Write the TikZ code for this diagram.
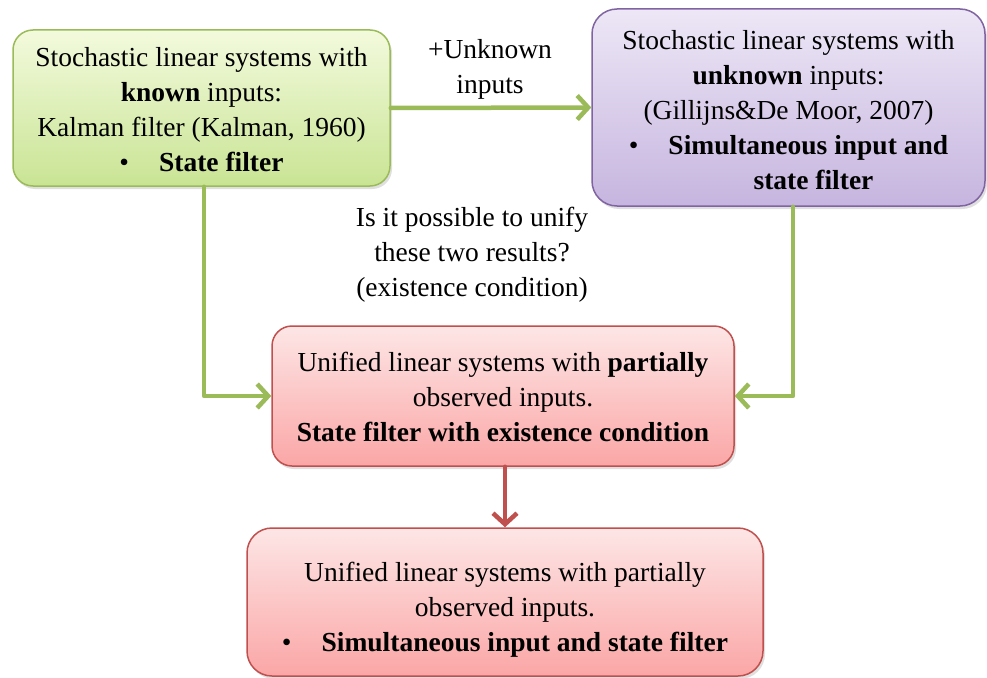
\documentclass[tikz,border=0pt]{standalone}
\usepackage{fontspec}
\setmainfont{Liberation Serif}
\usetikzlibrary{arrows.meta,shadows}

\definecolor{grnline}{HTML}{9BBB59}
\definecolor{grntop}{HTML}{F3FADD}
\definecolor{grnbot}{HTML}{C9E494}
\definecolor{purline}{HTML}{8064A2}
\definecolor{purtop}{HTML}{EDE7F6}
\definecolor{purbot}{HTML}{C6B5DF}
\definecolor{redline}{HTML}{C0504D}
\definecolor{redtop}{HTML}{FDE6E6}
\definecolor{redbot}{HTML}{FBA6A6}

\tikzset{
  bigtext/.style={font=\fontsize{27.5}{35}\selectfont, align=center},
  box/.style={bigtext, rectangle, rounded corners=20pt, line width=1.5pt,
    inner sep=0pt,
    drop shadow={opacity=0.25, shadow xshift=2pt, shadow yshift=-3pt}},
  greenbox/.style={box, draw=grnline, top color=grntop, bottom color=grnbot},
  purplebox/.style={box, draw=purline, top color=purtop, bottom color=purbot, rounded corners=25pt},
  redbox/.style={box, draw=redline, top color=redtop, bottom color=redbot},
  garrow/.style={draw=grnline, line width=4.5pt, line cap=round, line join=round,
    -{Straight Barb[length=11pt,width=24pt]}},
  rarrow/.style={draw=redline, line width=4.5pt, line cap=round, line join=round,
    -{Straight Barb[length=11pt,width=24pt]}},
  note/.style={bigtext, inner sep=0pt}
}

\begin{document}
\begin{tikzpicture}[x=1pt, y=-1pt]
  \useasboundingbox (0,0) rectangle (987,677);

  % known-input filter
  \node[greenbox, minimum width=377pt, minimum height=156pt] (known) at (201.5,108)
    {\rule{0pt}{22pt}Stochastic linear systems with\\
     \textbf{known} inputs:\\
     Kalman filter (Kalman, 1960)\\
     \textbullet\hspace{30pt}\textbf{State filter}};

  % unknown-input filter
  \node[purplebox, minimum width=393pt, minimum height=197pt] (unknown) at (788.5,107.5)
    {\rule{0pt}{24pt}Stochastic linear systems with\\
     \textbf{unknown} inputs:\\
     (Gillijns\&De Moor, 2007)\\
     \textbullet\hspace{30pt}\textbf{Simultaneous input and}\\
     \hspace*{50pt}\textbf{state filter}};

  % unified state filter
  \node[redbox, minimum width=462pt, minimum height=140pt] (unified) at (503,396)
    {\rule{0pt}{22pt}Unified linear systems with \textbf{partially}\\
     observed inputs.\\
     \textbf{State filter with existence condition}};

  % unified simultaneous filter
  \node[redbox, rounded corners=25pt, minimum width=516pt, minimum height=148pt] (joint) at (505,602)
    {\rule{0pt}{34pt}Unified linear systems with partially\\
     observed inputs.\\
     \textbullet\hspace{30pt}\textbf{Simultaneous input and state filter}};

  % annotations
  \node[note] (plus) at (490,69) {+Unknown\\inputs};
  \node[note] (question) at (472,255) {Is it possible to unify\\these two results?\\(existence condition)};

  % connectors
  \draw[garrow] (known.east) -- (unknown.west);
  \draw[garrow] ([xshift=2.5pt]known.south) -- ([xshift=2.5pt]known.south |- unified.west) -- (unified.west);
  \draw[garrow] ([xshift=4.5pt]unknown.south) -- ([xshift=4.5pt]unknown.south |- unified.east) -- (unified.east);
  \draw[rarrow] ([xshift=2pt]unified.south) -- ([xshift=2pt]unified.south |- joint.north);
\end{tikzpicture}
\end{document}
